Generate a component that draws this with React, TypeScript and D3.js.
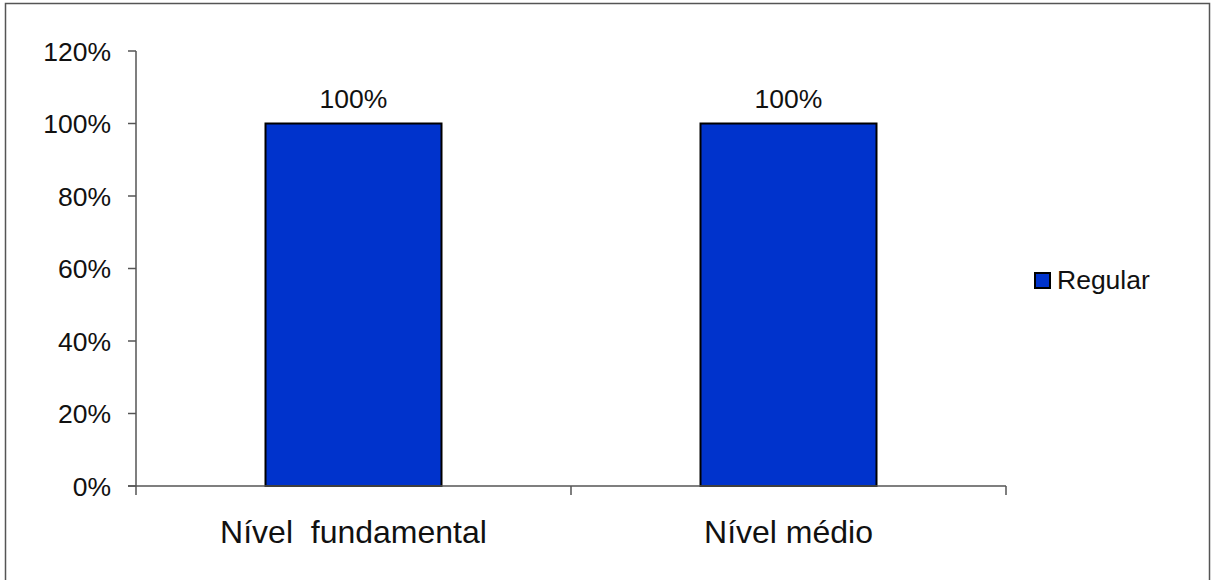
import React from "react";
import * as d3 from "d3";

const categories = ["Nível  fundamental", "Nível médio"];
const regularValues = [1.0, 1.0];
const yTicks = [0, 0.2, 0.4, 0.6, 0.8, 1.0, 1.2];
const seriesName = "Regular";

const W = 1211;
const H = 580;
const FONT = "'Liberation Sans', Arial, sans-serif";

export default function App() {
  const x = d3.scaleBand<string>().domain(categories).range([136, 1006]).paddingInner(0).paddingOuter(0);
  const y = d3.scaleLinear().domain([0, 1.2]).range([486, 51]);
  const barW = 176;
  const fmt = d3.format(".0%");
  const y0 = y(0);

  return (
    <svg width={W} height={H} style={{ position: "absolute", left: 0, top: 0 }} xmlns="http://www.w3.org/2000/svg">
      <rect x={0} y={0} width={W} height={H} fill="#fff" />
      <rect x={5.5} y={3.5} width={1204} height={590} fill="none" stroke="#555" strokeWidth={1.5} />

      {/* bars */}
      {categories.map((c, i) => {
        const cx = (x(c) as number) + x.bandwidth() / 2;
        return (
          <g key={c}>
            <rect
              x={cx - barW / 2}
              y={y(regularValues[i])}
              width={barW}
              height={y0 - y(regularValues[i])}
              fill="#0033CC"
              stroke="#000"
              strokeWidth={2}
            />
            <text
              x={cx}
              y={y(regularValues[i]) - 16}
              textAnchor="middle"
              fontFamily={FONT}
              fontSize={26.5}
              fill="#111"
            >
              {fmt(regularValues[i])}
            </text>
          </g>
        );
      })}

      {/* y axis */}
      <line x1={136} x2={136} y1={y(1.2)} y2={y0} stroke="#555" strokeWidth={1.5} />
      {yTicks.map((t) => (
        <g key={t}>
          <line x1={128} x2={136} y1={y(t)} y2={y(t)} stroke="#555" strokeWidth={1.5} />
          <text x={111} y={y(t)} dy="0.36em" textAnchor="end" fontFamily={FONT} fontSize={26.5} fill="#111">
            {fmt(t)}
          </text>
        </g>
      ))}

      {/* x axis */}
      <line x1={128} x2={1006} y1={y0} y2={y0} stroke="#555" strokeWidth={1.5} />
      {[...categories.map((c) => x(c) as number), 1006].map((px, i) => (
        <line key={i} x1={px} x2={px} y1={y0} y2={y0 + 9} stroke="#555" strokeWidth={1.5} />
      ))}
      {categories.map((c) => (
        <text
          key={c}
          x={(x(c) as number) + x.bandwidth() / 2}
          y={543}
          textAnchor="middle"
          fontFamily={FONT}
          fontSize={32}
          fill="#111"
          style={{ whiteSpace: "pre" }}
        >
          {c}
        </text>
      ))}

      {/* legend */}
      <rect x={1035} y={273} width={15} height={15} fill="#0033CC" stroke="#000" strokeWidth={2} />
      <text x={1057} y={289} fontFamily={FONT} fontSize={26.5} fill="#111">
        {seriesName}
      </text>
    </svg>
  );
}
